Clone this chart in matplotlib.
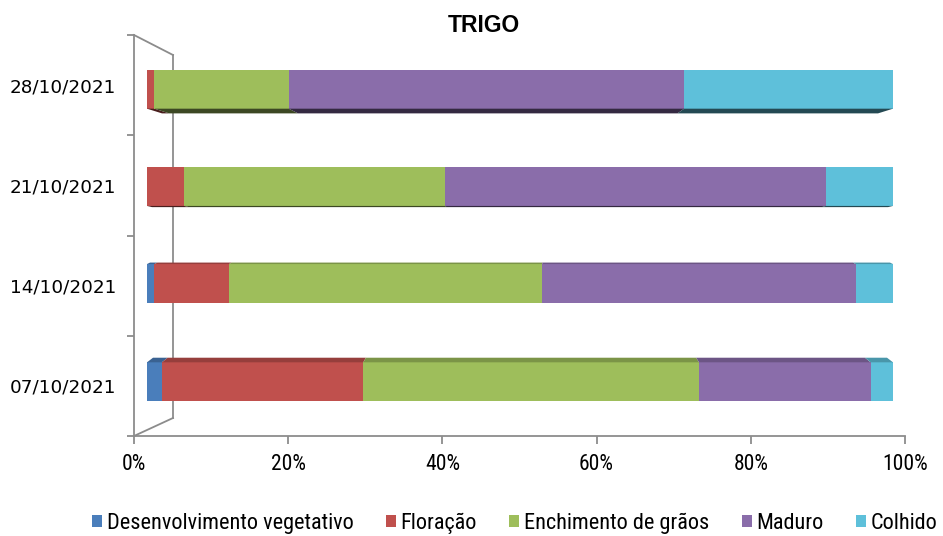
import numpy as np
import matplotlib.pyplot as plt
from matplotlib import font_manager
from matplotlib.colors import to_rgb
from matplotlib.patches import Polygon
from matplotlib.ticker import FixedLocator, FuncFormatter

datas = ["07/10/2021", "14/10/2021", "21/10/2021", "28/10/2021"]
estadios = ["Desenvolvimento vegetativo", "Floração", "Enchimento de grãos", "Maduro", "Colhido"]
desenv = [2, 1, 0, 0]
floracao = [27, 10, 5, 1]
enchimento = [45, 42, 35, 18]
maduro = [23, 42, 51, 53]
colhido = [3, 5, 9, 28]
cores = ["#4A7EBB", "#C0504D", "#9EBE5B", "#8A6DAA", "#5EC0DA"]

series = [desenv, floracao, enchimento, maduro, colhido]

W, H = 943, 536
fig = plt.figure(figsize=(W / 100, H / 100), dpi=100)
cinza = "#8C8C8C"

# fonte estreita (tipo Calibri) se existir
instaladas = {f.name for f in font_manager.fontManager.ttflist}
narrow = "Liberation Sans"
for nome in ["Liberation Sans Narrow", "Roboto Condensed", "DejaVu Sans Condensed"]:
    if nome in instaladas:
        narrow = nome
        break

# eixo das escalas (parede/chao do grafico 3D)
ax2 = fig.add_axes([134 / W, (H - 436) / H, 771 / W, 401 / H])
ax2.set_xlim(0, 100)
ax2.set_ylim(-0.5, 3.5)
for s in ["top", "right"]:
    ax2.spines[s].set_visible(False)
for s in ["left", "bottom"]:
    ax2.spines[s].set_color(cinza)
    ax2.spines[s].set_linewidth(1.3)
ax2.set_xticks(np.arange(0, 101, 20))
ax2.xaxis.set_major_formatter(FuncFormatter(lambda v, p: f"{v:.0f}%"))
ax2.tick_params(axis="x", direction="out", length=6, width=1.3, color=cinza, pad=7, labelsize=15.5)
for t in ax2.get_xticklabels():
    t.set_family(narrow)
ax2.set_yticks(range(len(datas)))
ax2.set_yticklabels(datas, fontsize=13.2)
ax2.yaxis.set_minor_locator(FixedLocator(np.arange(-0.5, 3.6, 1)))
ax2.tick_params(axis="y", which="major", length=0, pad=13)
ax2.tick_params(axis="y", which="minor", direction="out", length=5, width=1.3, color=cinza)

dx, y_fundo, y_topo = 39 / 771, 18 / 401, 381 / 401
ax2.plot([0, dx], [1, y_topo], transform=ax2.transAxes, color=cinza, lw=1.3, clip_on=False)
ax2.plot([dx, dx], [y_topo, y_fundo], transform=ax2.transAxes, color=cinza, lw=1.3, clip_on=False)
ax2.plot([0, dx], [0, y_fundo], transform=ax2.transAxes, color=cinza, lw=1.3, clip_on=False)

# barras (face frontal)
ax = fig.add_axes([147 / W, (H - 436) / H, 746 / W, 401 / H])
ax.set_xlim(0, 100)
ax.set_ylim(-0.5, 3.5)
ax.axis("off")
ax.patch.set_alpha(0)

desloc = [0.04, 0.02, -0.01, -0.04]
alt = 0.39
ypos = np.arange(len(datas)) + np.array(desloc)
# face 3D visivel: (lado, profundidade px, recuo px)
faces = [("top", 4.6, 6), ("top", 1.5, 3), ("bottom", 1.2, 5), ("bottom", 4.7, 15)]
px_y = 401 / 4

left = np.zeros(len(datas))
handles = []
for vals, cor, nome in zip(series, cores, estadios):
    vals = np.array(vals, dtype=float)
    b = ax.barh(ypos, vals, left=left, height=alt, color=cor, edgecolor="none", label=nome)
    handles.append(b)
    for i, (lado, prof, recuo) in enumerate(faces):
        if vals[i] == 0:
            continue
        s = 1 - recuo / 373
        x0, x1 = left[i], left[i] + vals[i]
        b0, b1 = 50 + (x0 - 50) * s, 50 + (x1 - 50) * s
        if lado == "top":
            yf = ypos[i] + alt / 2
            yb = yf + prof / px_y
            fc = np.array(to_rgb(cor)) * 0.78
        else:
            yf = ypos[i] - alt / 2
            yb = yf - prof / px_y
            fc = np.array(to_rgb(cor)) * 0.38
        ax.add_patch(Polygon([(x0, yf), (x1, yf), (b1, yb), (b0, yb)], closed=True,
                             facecolor=fc, edgecolor="none", clip_on=False))
    left += vals

fig.text(484 / W, 1 - 25 / H, "TRIGO", ha="center", va="center", fontsize=16.5,
         fontweight="bold", family="Liberation Sans")

leg = fig.legend(handles=handles, loc="center left", bbox_to_anchor=(92 / W, 1 - 523 / H), ncol=5,
                 frameon=False, handlelength=0.45, handleheight=0.45, handletextpad=0.22,
                 columnspacing=1.45, borderpad=0, borderaxespad=0,
                 prop={"family": narrow, "size": 16})

fig.savefig("out.png", dpi=100)
